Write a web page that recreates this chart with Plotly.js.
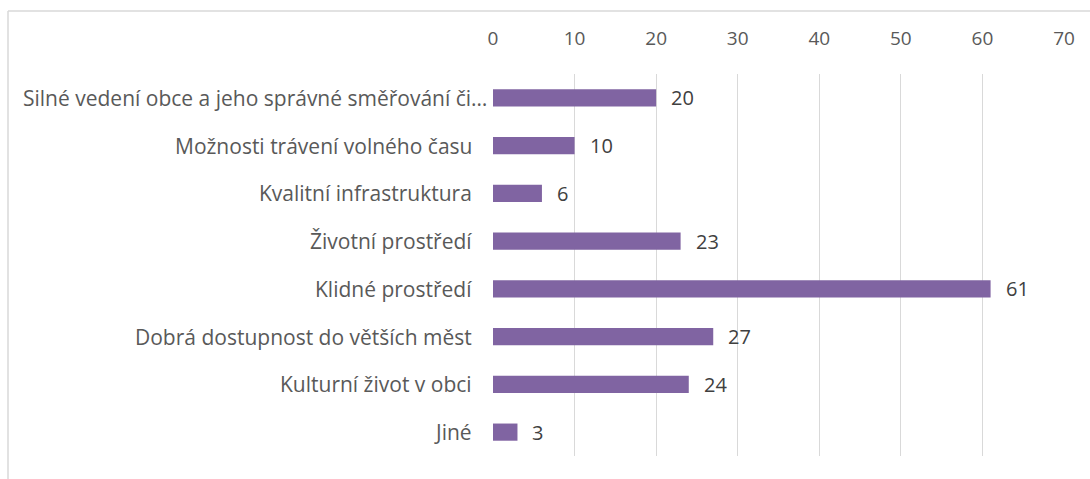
<!DOCTYPE html>
<html><head><meta charset="utf-8">
<script src="https://cdn.plot.ly/plotly-3.0.1.min.js"></script>
<style>html,body{margin:0;padding:0;background:#fff;}#c{width:1090px;height:479px;}</style>
</head><body><div id="c"></div>
<script>
const categories = ["Silné vedení obce a jeho správné směřování či…","Možnosti trávení volného času","Kvalitní infrastruktura","Životní prostředí","Klidné prostředí","Dobrá dostupnost do větších měst","Kulturní život v obci","Jiné"];
const values = [20,10,6,23,61,27,24,3];
const tickVals = [0,10,20,30,40,50,60,70];

const FONT = "'Open Sans', sans-serif";
const L=493, R=1064, T=74, B=456;
const W=1090, H=479;
const pw=R-L, ph=B-T;
const px = p => (p-L)/pw;
const py = p => (B-p)/ph;

// data labels
const valueLabels = values.map((v,i)=>({
  x: v, y: categories[i], xref:'x', yref:'y', text: String(v),
  showarrow:false, xanchor:'left', xshift:13, font:{family:FONT,size:20,color:'#404040'}
}));
// category labels (the truncated first label overflows its slot, as in the source)
const catLabels = categories.map((c,i)=>({
  x: 0, y: c, xref:'x', yref:'y', text: c,
  showarrow:false, xanchor:'right', xshift: (i===0 ? -4 : -19),
  font:{family:FONT,size:21,color:'#595959'}
}));

Plotly.newPlot('c',[{
  type:'bar', orientation:'h', x: values, y: categories,
  marker:{color:'#8064A2'}, width:0.36, hoverinfo:'none'
}],{
  width:W, height:H,
  margin:{l:L, r:W-R, t:T, b:H-B, pad:0},
  paper_bgcolor:'#fff', plot_bgcolor:'#fff',
  font:{family:FONT, size:19, color:'#595959'},
  showlegend:false,
  xaxis:{side:'top', range:[0,70], tickvals:tickVals, showgrid:true, gridcolor:'#d9d9d9', gridwidth:1,
    zeroline:false, showline:false, ticks:'outside', ticklen:20, tickcolor:'rgba(0,0,0,0)',
    tickfont:{family:FONT,size:19,color:'#595959'}, fixedrange:true},
  yaxis:{autorange:'reversed', showgrid:false, zeroline:false, showline:false,
    showticklabels:false, fixedrange:true},
  annotations: valueLabels.concat(catLabels),
  shapes:[
    {type:'line', xref:'paper', yref:'paper', x0:px(8), x1:px(8), y0:py(11), y1:py(490), line:{color:'#d9d9d9', width:1.5}},
    {type:'line', xref:'paper', yref:'paper', x0:px(8), x1:px(1100), y0:py(11), y1:py(11), line:{color:'#d9d9d9', width:1.5}}
  ]
},{displayModeBar:false, staticPlot:true});
</script></body></html>
